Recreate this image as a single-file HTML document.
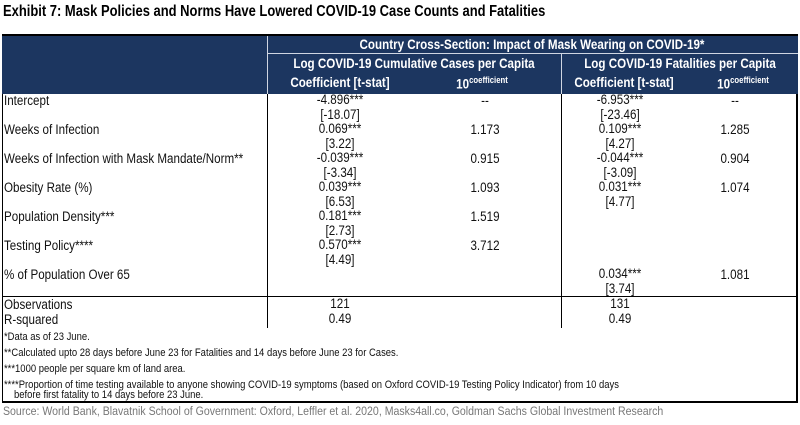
<!DOCTYPE html>
<html><head><meta charset="utf-8"><style>
*{margin:0;padding:0;box-sizing:border-box}
body{width:800px;height:425px;background:#fff;position:relative;overflow:hidden;font-family:"Liberation Sans",sans-serif;color:#111}
.t{position:absolute;white-space:nowrap;font-size:13.5px;line-height:15px;transform-origin:0 0;transform:scaleX(.86)}
.c{position:absolute;white-space:nowrap;font-size:13.5px;line-height:15px;transform:translateX(-50%) scaleX(.86)}
.h{color:#fff;font-weight:bold;font-size:13.5px}
.f{font-size:11px;line-height:12px}
.l{position:absolute;background:#000}
#b{position:absolute;left:0;top:2px;width:800px;height:300px}
</style></head><body>
<div class="t" style="left:3px;top:2px;font-size:16px;line-height:19px;font-weight:bold;transform:scaleX(.81);color:#000">Exhibit 7: Mask Policies and Norms Have Lowered COVID-19 Case Counts and Fatalities</div>
<div class="l" style="left:2px;top:94px;width:1px;height:309px"></div>
<div class="l" style="left:796px;top:34px;width:2px;height:369px"></div>
<div class="l" style="left:2px;top:401px;width:796px;height:2px"></div>
<div class="l" style="left:267px;top:94px;width:1px;height:234px"></div>
<div class="l" style="left:561px;top:94px;width:1px;height:234px"></div>
<div class="l" style="left:2px;top:296px;width:796px;height:1px"></div>
<div id="b">
<div class="t" style="left:4px;top:91px">Intercept</div>
<div class="c" style="left:340px;top:90px">-4.896***</div><div class="c" style="left:485px;top:91px">--</div>
<div class="c" style="left:620px;top:90px">-6.953***</div><div class="c" style="left:735px;top:91px">--</div>
<div class="c" style="left:340px;top:105px">[-18.07]</div><div class="c" style="left:620px;top:105px">[-23.46]</div>
<div class="t" style="left:4px;top:120px">Weeks of Infection</div>
<div class="c" style="left:340px;top:119px">0.069***</div><div class="c" style="left:485px;top:120px">1.173</div>
<div class="c" style="left:620px;top:119px">0.109***</div><div class="c" style="left:735px;top:120px">1.285</div>
<div class="c" style="left:340px;top:134px">[3.22]</div><div class="c" style="left:620px;top:134px">[4.27]</div>
<div class="t" style="left:4px;top:149px">Weeks of Infection with Mask Mandate/Norm**</div>
<div class="c" style="left:340px;top:148px">-0.039***</div><div class="c" style="left:485px;top:149px">0.915</div>
<div class="c" style="left:620px;top:148px">-0.044***</div><div class="c" style="left:735px;top:149px">0.904</div>
<div class="c" style="left:340px;top:163px">[-3.34]</div><div class="c" style="left:620px;top:163px">[-3.09]</div>
<div class="t" style="left:4px;top:178px">Obesity Rate (%)</div>
<div class="c" style="left:340px;top:177px">0.039***</div><div class="c" style="left:485px;top:178px">1.093</div>
<div class="c" style="left:620px;top:177px">0.031***</div><div class="c" style="left:735px;top:178px">1.074</div>
<div class="c" style="left:340px;top:192px">[6.53]</div><div class="c" style="left:620px;top:192px">[4.77]</div>
<div class="t" style="left:4px;top:207px">Population Density***</div>
<div class="c" style="left:340px;top:206px">0.181***</div><div class="c" style="left:485px;top:207px">1.519</div>
<div class="c" style="left:340px;top:221px">[2.73]</div>
<div class="t" style="left:4px;top:236px">Testing Policy****</div>
<div class="c" style="left:340px;top:235px">0.570***</div><div class="c" style="left:485px;top:236px">3.712</div>
<div class="c" style="left:340px;top:250px">[4.49]</div>
<div class="t" style="left:4px;top:265px">% of Population Over 65</div>
<div class="c" style="left:620px;top:264px">0.034***</div><div class="c" style="left:735px;top:265px">1.081</div>
<div class="c" style="left:620px;top:279px">[3.74]</div>
</div>
<div style="position:absolute;left:2px;top:34px;width:796px;height:60px;background:#1c3660;border-top:2px solid #000"></div>
<div style="position:absolute;left:267px;top:36px;width:1px;height:58px;background:#cfd6e2"></div>
<div style="position:absolute;left:268px;top:53px;width:530px;height:1px;background:#cfd6e2"></div>
<div style="position:absolute;left:561px;top:54px;width:1px;height:40px;background:#cfd6e2"></div>
<div class="c h" style="left:532px;top:37px">Country Cross-Section: Impact of Mask Wearing on COVID-19*</div>
<div class="c h" style="left:414px;top:56px">Log COVID-19 Cumulative Cases per Capita</div>
<div class="c h" style="left:680px;top:56px">Log COVID-19 Fatalities per Capita</div>
<div class="c h" style="left:340px;top:75px">Coefficient [t-stat]</div>
<div class="c h" style="left:482px;top:73px">10<sup style="font-size:9px">coefficient</sup></div>
<div class="c h" style="left:624px;top:75px">Coefficient [t-stat]</div>
<div class="c h" style="left:743px;top:73px">10<sup style="font-size:9px">coefficient</sup></div>
<div class="t" style="left:4px;top:297px">Observations</div>
<div class="c" style="left:340px;top:296px">121</div><div class="c" style="left:620px;top:296px">131</div>
<div class="t" style="left:4px;top:312px">R-squared</div>
<div class="c" style="left:340px;top:311px">0.49</div><div class="c" style="left:620px;top:311px">0.49</div>
<div class="t f" style="left:4px;top:331px">*Data as of 23 June.</div>
<div class="t f" style="left:4px;top:347px">**Calculated upto 28 days before June 23 for Fatalities and 14 days before June 23 for Cases.</div>
<div class="t f" style="left:4px;top:363px">***1000 people per square km of land area.</div>
<div class="t f" style="left:4px;top:379px">****Proportion of time testing available to anyone showing COVID-19 symptoms (based on Oxford COVID-19 Testing Policy Indicator) from 10 days</div>
<div class="t f" style="left:14px;top:389px">before first fatality to 14 days before 23 June.</div>
<div class="t" style="left:3px;top:404px;font-size:12.3px;color:#777">Source: World Bank, Blavatnik School of Government: Oxford, Leffler et al. 2020, Masks4all.co, Goldman Sachs Global Investment Research</div>
</body></html>
